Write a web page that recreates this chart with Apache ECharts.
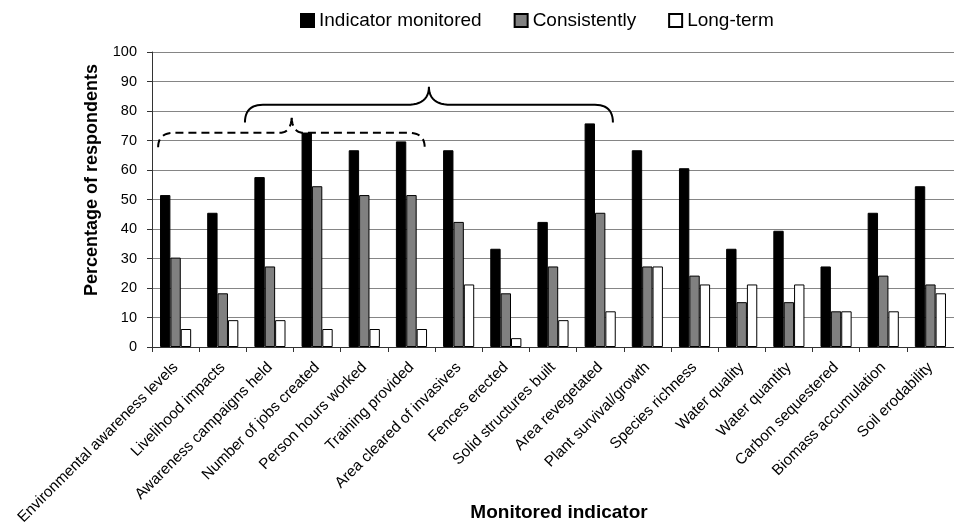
<!DOCTYPE html>
<html>
<head>
<meta charset="utf-8">
<script src="https://cdn.jsdelivr.net/npm/echarts@6/dist/echarts.min.js"></script>
<style>
html,body{margin:0;padding:0;background:#fff;}
#c{width:954px;height:528px;}
</style>
</head>
<body>
<div id="c"></div>
<script>
const categories = ['Environmental awareness levels','Livelihood impacts','Awareness campaigns held','Number of jobs created','Person hours worked','Training provided','Area cleared of invasives','Fences erected','Solid structures built','Area revegetated','Plant survival/growth','Species richness','Water quality','Water quantity','Carbon sequestered','Biomass accumulation','Soil erodability'];
const monitored = [51.5, 45.5, 57.6, 72.7, 66.7, 69.7, 66.7, 33.3, 42.4, 75.8, 66.7, 60.6, 33.3, 39.4, 27.3, 45.5, 54.5];
const consistently = [30.3, 18.2, 27.3, 54.5, 51.5, 51.5, 42.4, 18.2, 27.3, 45.5, 27.3, 24.2, 15.2, 15.2, 12.1, 24.2, 21.2];
const longTerm = [6.1, 9.1, 9.1, 6.1, 6.1, 6.1, 21.2, 3.0, 9.1, 12.1, 27.3, 21.2, 21.2, 21.2, 12.1, 12.1, 18.2];
const seriesNames = ['Indicator monitored', 'Consistently', 'Long-term'];
const yMin = 0, yMax = 100, yStep = 10;

const FONT = '"Liberation Sans", Arial, sans-serif';
const chart = echarts.init(document.getElementById('c'));

function bar(name, data, color) {
  return {
    name: name, type: 'bar', data: data,
    barGap: '0%', barCategoryGap: '34%',
    itemStyle: { color: color, borderColor: '#000', borderWidth: 1 },
    emphasis: { disabled: true },
    animation: false
  };
}

const option = {
  animation: false,
  textStyle: { fontFamily: FONT },
  legend: {
    left: 300, top: 11, padding: 0,
    itemWidth: 13, itemHeight: 13, itemGap: 32,
    icon: 'rect',
    textStyle: { fontFamily: FONT, fontSize: 19, color: '#000' },
    data: seriesNames
  },
  grid: { left: 152, top: 52, width: 810, height: 295, containLabel: false },
  xAxis: {
    type: 'category', data: categories, boundaryGap: true,
    axisLine: { lineStyle: { color: '#333', width: 1 } },
    axisTick: { show: true, length: 5, alignWithLabel: false, lineStyle: { color: '#333' } },
    axisLabel: { rotate: 45, interval: 0, fontSize: 15.3, margin: 18, color: '#000', fontFamily: FONT }
  },
  yAxis: {
    type: 'value', min: yMin, max: yMax, interval: yStep,
    axisLine: { show: true, lineStyle: { color: '#333', width: 1 } },
    axisTick: { show: true, length: 5, lineStyle: { color: '#333' } },
    axisLabel: { fontSize: 14.5, margin: 15, color: '#000', fontFamily: FONT },
    splitLine: { lineStyle: { color: '#858585', width: 1 } }
  },
  series: [
    bar(seriesNames[0], monitored, '#000000'),
    bar(seriesNames[1], consistently, '#808080'),
    bar(seriesNames[2], longTerm, '#ffffff')
  ]
};
chart.setOption(option);

// Annotation braces (in category / value units)
const x0 = chart.convertToPixel({ xAxisIndex: 0 }, 0);
const step = chart.convertToPixel({ xAxisIndex: 0 }, 1) - x0;
const px = c => x0 + c * step;
const py = v => chart.convertToPixel({ yAxisIndex: 0 }, v);

function quad(p0, c, p1, n) {
  const pts = [];
  for (let i = 1; i <= n; i++) {
    const t = i / n, u = 1 - t;
    pts.push([u*u*p0[0] + 2*u*t*c[0] + t*t*p1[0], u*u*p0[1] + 2*u*t*c[1] + t*t*p1[1]]);
  }
  return pts;
}
function brace(b) {
  const L = px(b.l), T = px(b.tip), R = px(b.r);
  const ye = py(b.endV), yf = py(b.flatV), yt = py(b.tipV);
  let pts = [[L, ye]];
  pts = pts.concat(quad([L, ye], [L, yf], [L + b.rEnd, yf], 12));
  pts.push([T - b.rTip, yf]);
  pts = pts.concat(quad([T - b.rTip, yf], [T, yf], [T, yt], 12));
  pts = pts.concat(quad([T, yt], [T, yf], [T + b.rTip, yf], 12));
  pts.push([R - b.rEnd, yf]);
  pts = pts.concat(quad([R - b.rEnd, yf], [R, yf], [R, ye], 12));
  return {
    type: 'polyline', z: 100, silent: true,
    shape: { points: pts },
    style: { stroke: '#000', fill: null, lineWidth: 2, lineDash: b.dash ? [8, 5] : null }
  };
}
const braces = [
  { l: 1.47, tip: 5.37, r: 9.27, endV: 76.1, flatV: 82.1, tipV: 88.2, rEnd: 18, rTip: 22, dash: false },
  { l: -0.37, tip: 2.46, r: 5.28, endV: 67.7, flatV: 72.6, tipV: 78.4, rEnd: 16, rTip: 12, dash: true }
];

chart.setOption({
  graphic: braces.map(brace).concat([
    {
      type: 'text', z: 100, silent: true,
      x: 92, y: 180, rotation: Math.PI / 2,
      style: { text: 'Percentage of respondents', fontFamily: FONT, fontSize: 18, fontWeight: 'bold', fill: '#000', align: 'center', verticalAlign: 'middle' }
    },
    {
      type: 'text', z: 100, silent: true,
      x: 559, y: 513,
      style: { text: 'Monitored indicator', fontFamily: FONT, fontSize: 19, fontWeight: 'bold', fill: '#000', align: 'center', verticalAlign: 'middle' }
    }
  ])
});
</script>
</body>
</html>
